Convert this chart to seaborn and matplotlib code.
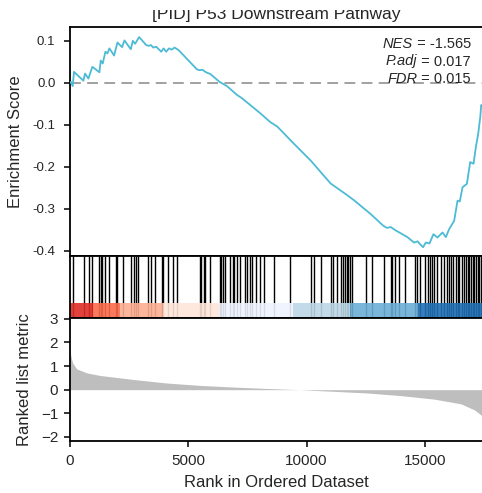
import matplotlib
matplotlib.use("Agg")
import matplotlib.pyplot as plt
from matplotlib.patches import Rectangle
import seaborn as sns
import pandas as pd

# ---- data -----------------------------------------------------------------
title = "[PID] P53 Downstream Pathway"
n_genes = 17460

# running enrichment score (rank, score)
es_rank = [0, 42, 114, 170, 565, 636, 777, 946, 1130, 1243, 1299, 1384, 1497,
           1582, 1667, 1864, 2006, 2203, 2302, 2571, 2655, 2754, 2924, 3220,
           3330, 3420, 3520, 3644, 3856, 3955, 4068, 4180, 4300, 4421, 4590,
           5367, 5480, 5600, 5700, 5790, 5932, 6328, 6638, 7062, 7275, 8051,
           8474, 8757, 9463, 10169, 11017, 11695, 12006, 12712, 13250, 13400,
           13559, 13771, 14265, 14548, 14700, 14800, 14929, 15042, 15200,
           15367, 15537, 15749, 15890, 16031, 16243, 16384, 16480, 16596,
           16780, 16921, 17062, 17161, 17260, 17345, 17387, 17444]
es_score = [0.000, 0.002, -0.008, 0.026, 0.005, 0.022, 0.010, 0.038, 0.030,
            0.025, 0.053, 0.046, 0.074, 0.070, 0.082, 0.065, 0.096, 0.085,
            0.101, 0.080, 0.100, 0.093, 0.109, 0.090, 0.088, 0.090, 0.084,
            0.086, 0.074, 0.082, 0.074, 0.082, 0.079, 0.084, 0.078, 0.032,
            0.030, 0.031, 0.027, 0.024, 0.021, 0.002, -0.008, -0.029, -0.037,
            -0.073, -0.094, -0.104, -0.145, -0.185, -0.240, -0.267, -0.280,
            -0.313, -0.341, -0.346, -0.344, -0.352, -0.368, -0.381, -0.378,
            -0.385, -0.392, -0.381, -0.383, -0.361, -0.369, -0.357, -0.368,
            -0.349, -0.329, -0.281, -0.283, -0.249, -0.241, -0.189, -0.193,
            -0.153, -0.121, -0.082, -0.053, -0.057]

# positions of pathway genes in the ranked list
hit_ranks = [140, 593, 818, 919, 1229, 1301, 1369, 1483, 1665, 1949, 2004,
             2258, 2572, 2712, 2797, 2894, 3318, 3419, 3602, 3886, 3953, 4123,
             4335, 4521, 5479, 5538, 5648, 5720, 5903, 6326, 6386, 6470, 6568,
             6750, 6877, 6949, 7064, 7203, 7415, 7487, 7627, 7699, 7881, 8051,
             8220, 8616, 9292, 10169, 10309, 10623, 11047, 11131, 11271, 11470,
             11560, 11620, 11695, 11751, 11836, 11935, 12500, 12783, 13275,
             13559, 13630, 13729, 13911, 14153, 14576, 14661, 14802, 15000,
             15141, 15226, 15325, 15395, 15508, 15706, 15820, 15932, 16028,
             16102, 16213, 16314, 16400, 16455, 16554, 16667, 16740, 16808,
             16880, 16949, 17020, 17090, 17160, 17232, 17301, 17380]

# ranked list metric (rank, value)
metric_rank = [0, 40, 113, 282, 706, 1271, 2684, 4096, 5508, 6921, 8333,
               9700, 11150, 12570, 13980, 15400, 16530, 17090, 17370, 17460]
metric_value = [1.70, 1.40, 1.13, 0.88, 0.71, 0.60, 0.43, 0.28, 0.18, 0.11,
                0.05, 0.00, -0.07, -0.14, -0.25, -0.40, -0.60, -0.85, -1.06,
                -1.27]

# rank colour strip
strip_edges = [0, 975, 2119, 3941, 6314, 9449, 11822, 14703, 17460]
strip_colors = ["#DE2D26", "#FB6A4A", "#FCAE91", "#FEE5D9",
                "#EFF3FF", "#BDD7E7", "#6BAED6", "#2171B5"]

stat_names = ["NES", "P.adj", "FDR"]
stat_values = ["-1.565", "0.017", "0.015"]

# ---- style ----------------------------------------------------------------
sns.set_theme(style="ticks")
plt.rcParams["font.family"] = ["Liberation Sans", "DejaVu Sans"]

W, H = 482, 493
fig = plt.figure(figsize=(W / 100, H / 100), dpi=100)

left = 70 / W
right = 1.002
width = right - left


def box(top_px, bottom_px):
    return [left, 1 - bottom_px / H, width, (bottom_px - top_px) / H]


ax_es = fig.add_axes(box(27, 256))
ax_hit = fig.add_axes(box(256, 318))
ax_rk = fig.add_axes(box(318, 441))

spine_lw = 1.3
for ax in (ax_es, ax_hit, ax_rk):
    for s in ax.spines.values():
        s.set_linewidth(spine_lw)
        s.set_color("black")
        s.set_visible(True)
    ax.set_xlim(0, n_genes)

# enrichment score panel
es_df = pd.DataFrame({"rank": es_rank, "score": es_score})
ax_es.axhline(0, color="#9a9a9a", lw=1.3, ls=(0, (6, 3.5)), zorder=1)
sns.lineplot(data=es_df, x="rank", y="score", ax=ax_es, color="#4DBBD5",
             lw=1.3, sort=False, estimator=None, zorder=3)
ax_es.set_ylim(-0.413, 0.133)
ax_es.set_yticks([-0.4, -0.3, -0.2, -0.1, 0.0, 0.1])
ax_es.set_yticklabels(["-0.4", "-0.3", "-0.2", "-0.1", "0.0", "0.1"])
ax_es.set_xticks([])
ax_es.set_xlabel("")
ax_es.set_ylabel("Enrichment Score", fontsize=12)
ax_es.yaxis.set_label_coords(-0.114, 0.5)
ax_es.tick_params(axis="y", direction="out", length=4.5, width=1.1,
                  labelsize=9.5, pad=6, color="black")
ax_es.set_title(title, fontsize=12.5, pad=6)

# statistics block: italic name, then " = value", right aligned
fig.canvas.draw()
renderer = fig.canvas.get_renderer()
inv = ax_es.transAxes.inverted()
x_right = (470 - 70) / 412
baselines_px = [48, 65.5, 83]
for name, val, bpx in zip(stat_names, stat_values, baselines_px):
    y_ax = 1 - (bpx - 27) / (256 - 27)
    t = ax_es.text(x_right, y_ax, f" = {val}", transform=ax_es.transAxes,
                   ha="right", va="baseline", fontsize=10.5)
    bb = t.get_window_extent(renderer)
    x_left = inv.transform((bb.x0, bb.y0))[0]
    ax_es.text(x_left, y_ax, name, transform=ax_es.transAxes, ha="right",
               va="baseline", fontsize=10.5, fontstyle="italic")

# gene hits and rank colour strip
ax_hit.vlines(hit_ranks, 0, 1, color="black", lw=1.0, zorder=1)
strip_h = 15 / 62
for (x0, x1), c in zip(zip(strip_edges[:-1], strip_edges[1:]), strip_colors):
    ax_hit.axvspan(x0, x1, ymin=0, ymax=strip_h, color=c, alpha=0.9, lw=0,
                   zorder=2)
ax_hit.set_ylim(0, 1)
ax_hit.set_xticks([])
ax_hit.set_yticks([])

# ranked list metric panel
ax_rk.fill_between(metric_rank, metric_value, 0, color="#BEBEBE", lw=0)
ax_rk.set_ylim(-2.17, 3.03)
ax_rk.set_yticks([-2, -1, 0, 1, 2, 3])
ax_rk.set_xticks([0, 5000, 10000, 15000])
ax_rk.set_xticklabels(["0", "5000", "10000", "15000"])
ax_rk.tick_params(axis="y", direction="out", length=4.5, width=1.1,
                  labelsize=11, pad=4, color="black")
ax_rk.tick_params(axis="x", direction="out", length=4.5, width=1.1,
                  labelsize=11, pad=5, color="black")
ax_rk.set_ylabel("Ranked list metric", fontsize=12)
ax_rk.yaxis.set_label_coords(-0.092, 0.5)
ax_rk.set_xlabel("Rank in Ordered Dataset", fontsize=12, labelpad=5)

# the top band of the canvas is blank margin that overlaps the title
fig.patches.append(Rectangle((0, 1 - 10 / H), 1, 10 / H, transform=fig.transFigure,
                             facecolor="white", edgecolor="none", zorder=10))

fig.savefig("out.png", dpi=100)
